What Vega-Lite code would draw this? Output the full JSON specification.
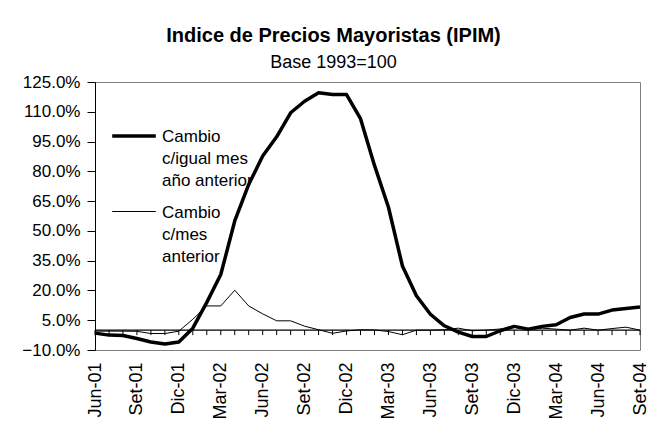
{
  "$schema": "https://vega.github.io/schema/vega-lite/v6.json",
  "width": 545,
  "height": 268,
  "autosize": {"type": "none"},
  "padding": {"left": 95, "top": 82, "right": 26, "bottom": 80},
  "background": "white",
  "config": {
    "font": "Liberation Sans",
    "view": {"stroke": "#808080", "strokeWidth": 1}
  },
  "title": {
    "text": "Indice de Precios Mayoristas (IPIM)",
    "subtitle": "Base 1993=100",
    "anchor": "middle",
    "dx": -34,
    "offset": 1,
    "font": "Liberation Sans",
    "fontSize": 20,
    "fontWeight": "bold",
    "color": "black",
    "subtitleFont": "Liberation Sans",
    "subtitleFontSize": 18,
    "subtitleColor": "black",
    "subtitlePadding": 8
  },
  "data": {
    "values": [
      {"mes": "Jun-01", "anual": -1.5, "mensual": -0.5},
      {"mes": "Jul-01", "anual": -2.5, "mensual": -0.5},
      {"mes": "Ago-01", "anual": -2.7, "mensual": -0.5},
      {"mes": "Set-01", "anual": -4.2, "mensual": -0.6},
      {"mes": "Oct-01", "anual": -6.0, "mensual": -1.7},
      {"mes": "Nov-01", "anual": -7.0, "mensual": -1.7},
      {"mes": "Dic-01", "anual": -6.0, "mensual": -0.5},
      {"mes": "Ene-02", "anual": 1.0, "mensual": 5.5},
      {"mes": "Feb-02", "anual": 14.0, "mensual": 12.2},
      {"mes": "Mar-02", "anual": 28.0, "mensual": 12.2},
      {"mes": "Abr-02", "anual": 55.0, "mensual": 20.1},
      {"mes": "May-02", "anual": 73.4, "mensual": 12.2},
      {"mes": "Jun-02", "anual": 87.7, "mensual": 8.2},
      {"mes": "Jul-02", "anual": 97.4, "mensual": 4.7},
      {"mes": "Ago-02", "anual": 109.5, "mensual": 4.7},
      {"mes": "Set-02", "anual": 115.3, "mensual": 2.0},
      {"mes": "Oct-02", "anual": 119.6, "mensual": 0.2},
      {"mes": "Nov-02", "anual": 118.7, "mensual": -1.6},
      {"mes": "Dic-02", "anual": 118.7, "mensual": -0.4},
      {"mes": "Ene-03", "anual": 106.5, "mensual": 0.2},
      {"mes": "Feb-03", "anual": 83.0, "mensual": 0.1},
      {"mes": "Mar-03", "anual": 61.9, "mensual": -0.7},
      {"mes": "Abr-03", "anual": 32.3, "mensual": -2.3},
      {"mes": "May-03", "anual": 17.3, "mensual": 0.0},
      {"mes": "Jun-03", "anual": 8.0, "mensual": 0.0},
      {"mes": "Jul-03", "anual": 2.2, "mensual": 0.2},
      {"mes": "Ago-03", "anual": -1.0, "mensual": 1.0},
      {"mes": "Set-03", "anual": -3.2, "mensual": -0.3},
      {"mes": "Oct-03", "anual": -3.2, "mensual": 0.0},
      {"mes": "Nov-03", "anual": -0.3, "mensual": 0.6},
      {"mes": "Dic-03", "anual": 1.9, "mensual": 1.5},
      {"mes": "Ene-04", "anual": 0.5, "mensual": 0.2},
      {"mes": "Feb-04", "anual": 1.9, "mensual": 1.0},
      {"mes": "Mar-04", "anual": 2.7, "mensual": 0.5},
      {"mes": "Abr-04", "anual": 6.4, "mensual": 0.0},
      {"mes": "May-04", "anual": 8.1, "mensual": 1.0},
      {"mes": "Jun-04", "anual": 8.1, "mensual": 0.0},
      {"mes": "Jul-04", "anual": 10.1, "mensual": 0.8},
      {"mes": "Ago-04", "anual": 10.9, "mensual": 1.5},
      {"mes": "Set-04", "anual": 11.7, "mensual": 0.0}
    ]
  },
  "encoding": {
    "x": {
      "field": "mes",
      "type": "ordinal",
      "sort": null,
      "scale": {"type": "point", "padding": 0},
      "axis": {
        "title": null,
        "values": ["Jun-01", "Set-01", "Dic-01", "Mar-02", "Jun-02", "Set-02", "Dic-02", "Mar-03", "Jun-03", "Set-03", "Dic-03", "Mar-04", "Jun-04", "Set-04"],
        "labelAngle": -90,
        "labelFontSize": 18,
        "labelColor": "black",
        "labelPadding": 12,
        "labelOverlap": false,
        "labelBound": false,
        "domain": false,
        "ticks": false,
        "grid": false
      }
    }
  },
  "layer": [
    {
      "mark": {"type": "rule", "color": "black", "strokeWidth": 1},
      "encoding": {
        "y": {"datum": 0, "type": "quantitative"},
        "y2": {"datum": -2.5}
      }
    },
    {
      "mark": {"type": "line", "color": "black", "strokeWidth": 1.2},
      "encoding": {
        "y": {"datum": 0, "type": "quantitative"}
      }
    },
    {
      "transform": [{"fold": ["anual", "mensual"], "as": ["serie", "valor"]}],
      "mark": {"type": "line", "color": "black", "strokeJoin": "round"},
      "encoding": {
        "y": {
          "field": "valor",
          "type": "quantitative",
          "scale": {"domain": [-10, 125], "nice": false, "zero": false},
          "axis": {
            "title": null,
            "values": [-10, 5, 20, 35, 50, 65, 80, 95, 110, 125],
            "tickCount": 20,
            "labelExpr": "format(datum.value, '.1f') + '%'",
            "labelFontSize": 17,
            "labelColor": "black",
            "labelPadding": 7,
            "labelOverlap": false,
            "labelBound": false,
            "domainColor": "black",
            "tickColor": "black",
            "tickSize": 8,
            "grid": false
          }
        },
        "strokeWidth": {
          "field": "serie",
          "type": "ordinal",
          "scale": {"domain": ["anual", "mensual"], "range": [3.5, 1]},
          "legend": {
            "title": null,
            "orient": "none",
            "legendX": 15,
            "legendY": 30,
            "padding": 0,
            "symbolType": "stroke",
            "symbolSize": 1900,
            "symbolStrokeColor": "black",
            "labelFontSize": 17,
            "labelColor": "black",
            "labelLimit": 300,
            "labelOffset": 4,
            "labelBaseline": "alphabetic",
            "labelLineHeight": 22,
            "rowPadding": 0,
            "labelExpr": "datum.label == 'anual' ? ['Cambio', 'c/igual mes', 'año anterior'] : ['Cambio', 'c/mes', 'anterior']",
            "encode": {"labels": {"update": {"dy": {"value": 6}, "lineHeight": {"value": 22}}}}
          }
        }
      }
    }
  ]
}
